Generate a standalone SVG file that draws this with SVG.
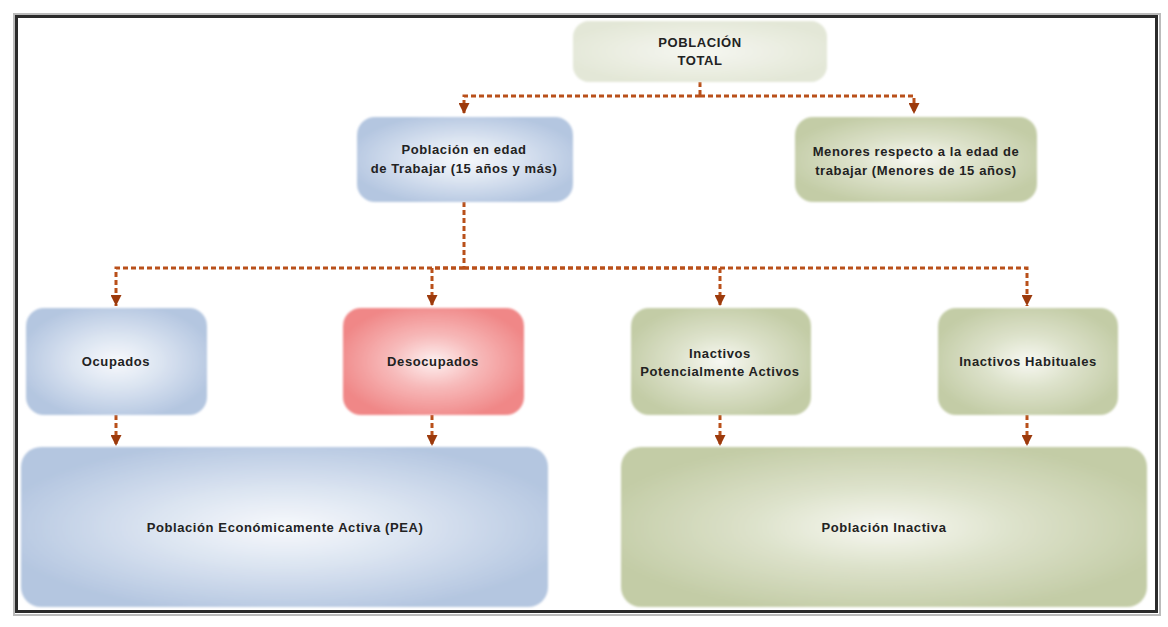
<svg xmlns="http://www.w3.org/2000/svg" width="1168" height="627" viewBox="0 0 1168 627">
<defs>
<radialGradient id="gBlue" cx="50%" cy="50%" r="55%">
<stop offset="0" stop-color="#f7f9fc"/>
<stop offset="0.45" stop-color="#dbe4f1"/>
<stop offset="1" stop-color="#b4c6e0"/>
</radialGradient>
<radialGradient id="gGreen" cx="50%" cy="50%" r="55%">
<stop offset="0" stop-color="#f7f8f2"/>
<stop offset="0.45" stop-color="#dde2cb"/>
<stop offset="1" stop-color="#c3cca6"/>
</radialGradient>
<radialGradient id="gRed" cx="50%" cy="50%" r="55%">
<stop offset="0" stop-color="#fdf0f0"/>
<stop offset="0.45" stop-color="#f7b9b9"/>
<stop offset="1" stop-color="#f08787"/>
</radialGradient>
<radialGradient id="gTop" cx="50%" cy="50%" r="55%">
<stop offset="0" stop-color="#f6f7f1"/>
<stop offset="1" stop-color="#e3e7d7"/>
</radialGradient>
<filter id="soft" x="-5%" y="-5%" width="110%" height="110%">
<feGaussianBlur stdDeviation="0.8"/>
</filter>
<marker id="arr" viewBox="0 0 10 10" refX="10" refY="5" markerWidth="11" markerHeight="11" markerUnits="userSpaceOnUse" orient="auto">
<path d="M0,0 L10,5 L0,10 Z" fill="#9c3a0c"/>
</marker>
</defs>
<style>
.frame{fill:#fff;stroke:#2b2b2b;stroke-width:3}
.frame2{fill:none;stroke:#bbb;stroke-width:2}
.box{filter:url(#soft)}
.t{font-family:"Liberation Sans",Arial,sans-serif;font-weight:bold;font-size:13px;fill:#222;text-anchor:middle;letter-spacing:0.6px}
.c{fill:none;stroke:#b9501a;stroke-width:3;stroke-dasharray:5 3}
.ca{fill:none;stroke:#b9501a;stroke-width:3;stroke-dasharray:5 3;marker-end:url(#arr)}
</style>
<rect width="1168" height="627" fill="#fff"/>
<rect class="frame2" x="14" y="14" width="1146" height="601"/>
<rect class="frame" x="16.5" y="16.5" width="1140" height="595"/>

<g id="connectors">
<path class="c" d="M700,82 V96"/>
<path class="ca" d="M700,96 H464 V114"/>
<path class="ca" d="M700,96 H914 V114"/>
<path class="c" d="M464,202 V268"/>
<path class="ca" d="M464,268 H116 V306"/>
<path class="ca" d="M464,268 H432 V306"/>
<path class="ca" d="M464,268 H720 V306"/>
<path class="ca" d="M464,268 H1027 V306"/>
<path class="ca" d="M116,415 V446"/>
<path class="ca" d="M432,415 V446"/>
<path class="ca" d="M720,415 V446"/>
<path class="ca" d="M1027,415 V446"/>
</g>

<g id="poblacion-total">
<rect class="box" x="573" y="21" width="254" height="61" rx="16" fill="url(#gTop)"/>
<text class="t" x="700" y="47">POBLACIÓN</text>
<text class="t" x="700" y="65">TOTAL</text>
</g>

<g id="edad-trabajar">
<rect class="box" x="357" y="117" width="216" height="85" rx="18" fill="url(#gBlue)"/>
<text class="t" x="464" y="154">Población en edad</text>
<text class="t" x="464" y="173">de Trabajar (15 años y más)</text>
</g>

<g id="menores">
<rect class="box" x="795" y="117" width="242" height="85" rx="18" fill="url(#gGreen)"/>
<text class="t" x="916" y="156">Menores respecto a la edad de</text>
<text class="t" x="916" y="175">trabajar (Menores de 15 años)</text>
</g>

<g id="ocupados">
<rect class="box" x="26" y="308" width="181" height="107" rx="18" fill="url(#gBlue)"/>
<text class="t" x="116" y="366">Ocupados</text>
</g>

<g id="desocupados">
<rect class="box" x="343" y="308" width="181" height="107" rx="18" fill="url(#gRed)"/>
<text class="t" x="433" y="366">Desocupados</text>
</g>

<g id="inactivos-potencialmente">
<rect class="box" x="631" y="308" width="180" height="107" rx="18" fill="url(#gGreen)"/>
<text class="t" x="720" y="358">Inactivos</text>
<text class="t" x="720" y="376">Potencialmente Activos</text>
</g>

<g id="inactivos-habituales">
<rect class="box" x="938" y="308" width="180" height="107" rx="18" fill="url(#gGreen)"/>
<text class="t" x="1028" y="366">Inactivos Habituales</text>
</g>

<g id="pea">
<rect class="box" x="21" y="447" width="527" height="160" rx="20" fill="url(#gBlue)"/>
<text class="t" x="285" y="532">Población Económicamente Activa (PEA)</text>
</g>

<g id="poblacion-inactiva">
<rect class="box" x="621" y="447" width="526" height="160" rx="20" fill="url(#gGreen)"/>
<text class="t" x="884" y="532">Población Inactiva</text>
</g>
</svg>
